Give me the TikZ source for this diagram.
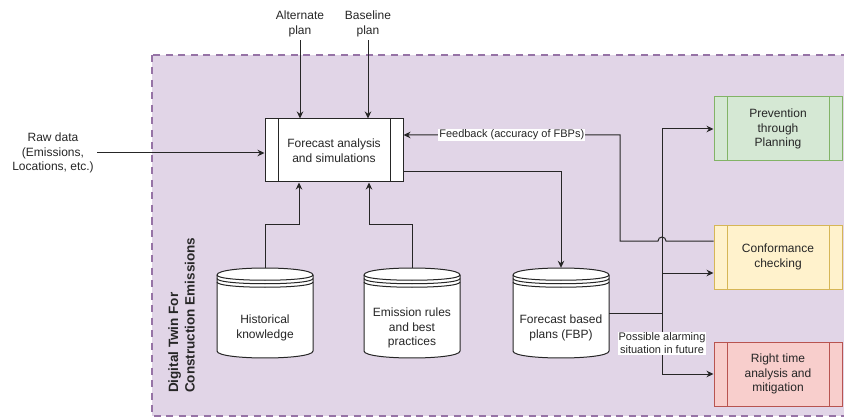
\documentclass[tikz,border=0pt]{standalone}
\usepackage{fontspec}
\setmainfont{Liberation Sans}
\usetikzlibrary{arrows.meta,calc}

\definecolor{ink}{HTML}{262626}
\definecolor{twinfill}{HTML}{E1D5E7}
\definecolor{twinline}{HTML}{9673A6}
\definecolor{greenfill}{HTML}{D5E8D4}
\definecolor{greenline}{HTML}{82B366}
\definecolor{yellowfill}{HTML}{FFF2CC}
\definecolor{yellowline}{HTML}{D6B656}
\definecolor{redfill}{HTML}{F8CECC}
\definecolor{redline}{HTML}{B85450}

% data store: name, centre x, top y, text
\newcommand{\datastore}[4]{%
  \begin{scope}[shift={(#2,-#3)}]
    \draw[line width=1pt, draw=ink, fill=white]
      (-48,-7) .. controls (-48,2.33) and (48,2.33) .. (48,-7)
      -- (48,-83) .. controls (48,-92.33) and (-48,-92.33) .. (-48,-83) -- cycle;
    \foreach \k in {0,3.5,7}
      \draw[line width=1pt, draw=ink]
        (-48,-7-\k) .. controls (-48,-14-\k) and (48,-14-\k) .. (48,-7-\k);
    \node[minimum width=96pt, minimum height=90pt, inner sep=0pt] (#1) at (0,-45) {};
    \node[txt] at (0,-60) {#4};
  \end{scope}}

\begin{document}
\begin{tikzpicture}[x=1pt, y=1pt,
  txt/.style={font=\fontsize{12}{14.5}\selectfont, text=ink, align=center},
  lbl/.style={font=\fontsize{11}{13}\selectfont, text=ink, fill=white,
    inner sep=1pt, align=center},
  procbox/.style 2 args={draw=#2, fill=#1, line width=1pt,
    minimum width=128pt, minimum height=64pt, inner sep=0pt, txt,
    path picture={\draw[#2, line width=1pt]
      ([xshift=13pt]path picture bounding box.north west) --
      ([xshift=13pt]path picture bounding box.south west)
      ([xshift=-13pt]path picture bounding box.north east) --
      ([xshift=-13pt]path picture bounding box.south east);}},
  wire/.style={line width=1pt, draw=ink},
  arr/.style={wire, -{Stealth[length=7pt, width=6.5pt]}}
]
\useasboundingbox (0,0) rectangle (844,-417);
\clip (0,0) rectangle (844,-417);

% container
\draw[fill=twinfill, draw=twinline, line width=1.5pt,
      dash pattern=on 7pt off 5.5pt] (152,-55) rectangle (870,-416);
\node[rotate=90, anchor=west, inner sep=0pt, align=left, text=ink,
      font=\fontsize{13.5}{16.5}\selectfont\bfseries]
  (twin) at (181.5,-393) {Digital Twin For\\Construction Emissions};

% process boxes
\node[procbox={white}{ink}, minimum width=138pt, minimum height=63pt]
  (fa) at (334,-150.5) {Forecast analysis\\and simulations};
\node[procbox={greenfill}{greenline}] (prev) at (778,-129) {Prevention\\through\\Planning};
\node[procbox={yellowfill}{yellowline}] (conf) at (778,-257) {Conformance\\checking};
\node[procbox={redfill}{redline}] (rta) at (778,-374) {Right time\\analysis and\\mitigation};

% data stores
\datastore{hist}{265}{268}{Historical\\knowledge}
\datastore{emis}{412}{268}{Emission rules\\and best\\practices}
\datastore{fbp}{561}{268}{Forecast based\\plans (FBP)}

% inputs
\node[txt] (alt) at (300,-24) {Alternate\\plan};
\node[txt] (base) at (368,-24) {Baseline\\plan};
\node[txt] (raw) at (53,-153) {Raw data\\(Emissions,\\Locations, etc.)};

\draw[arr] (alt.south) -- (alt.south |- fa.north);
\draw[arr] (base.south) -- (base.south |- fa.north);
\draw[arr] (raw.east) -- (raw.east -| fa.west);

\draw[arr] (hist.north) -- ++(0,43) -| ([xshift=-35pt]fa.south);
\draw[arr] (emis.north) -- ++(0,43) -| ([xshift=35pt]fa.south);
\draw[arr] ([yshift=-21.5pt]fa.east) -| (fbp.north);

% outputs of the forecast based plans
\coordinate (bus) at (662,-313);
\coordinate (fbturn) at (620,-241);
\coordinate (jumpR) at ($(bus |- fbturn)+(4,0)$);

\draw[wire] (fbp.east) -- (bus);
\draw[arr] (bus) |- (prev.west);
\draw[arr] (bus) |- ([yshift=-16pt]conf.west);
\draw[arr] (bus) |- node[lbl, pos=0.25] {Possible alarming\\situation in future} (rta.west);

% feedback loop
\draw[arr] ([yshift=16pt]conf.west) -- (jumpR)
  arc[start angle=0, end angle=180, radius=4pt] -- (fbturn)
  |- node[lbl, pos=0.75] {Feedback (accuracy of FBPs)} ([yshift=15.5pt]fa.east);
\end{tikzpicture}
\end{document}
